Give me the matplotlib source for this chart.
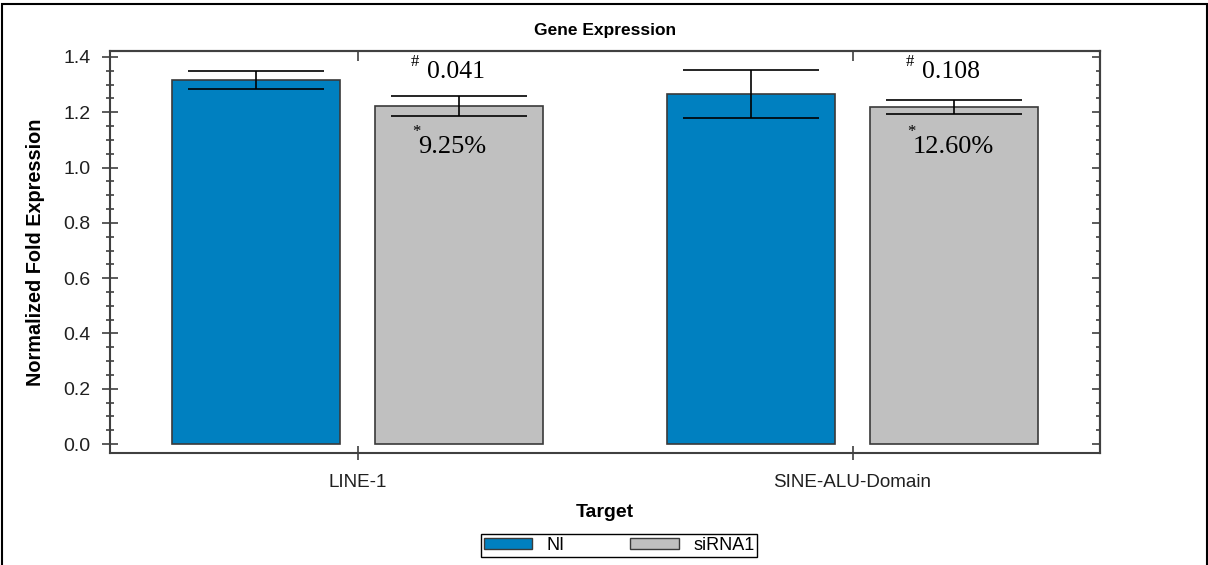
import matplotlib
matplotlib.use("Agg")
import matplotlib.pyplot as plt
import numpy as np
from matplotlib.patches import Patch, Rectangle
from matplotlib.ticker import MultipleLocator

# ---- data -------------------------------------------------------------
targets = ["LINE-1", "SINE-ALU-Domain"]
groups = ["NI", "siRNA1"]
ni_mean = [1.317, 1.266]
ni_err = [0.033, 0.087]
si_mean = [1.222, 1.219]
si_err = [0.037, 0.024]
p_labels = ["0.041", "0.108"]
pct_labels = ["9.25%", "12.60%"]

# ---- style -------------------------------------------------------------
SANS = ["Liberation Sans", "DejaVu Sans"]
SERIF = ["Liberation Serif", "DejaVu Serif"]
plt.rcParams["font.family"] = SANS
NI_COLOR = "#0080C0"
SI_COLOR = "#C0C0C0"
EDGE = "#3a3a3a"
SPINE = "#404040"

fig = plt.figure(figsize=(12.08, 5.65), dpi=100)
ax = fig.add_axes([110 / 1208, 112 / 565, 990 / 1208, 402 / 565])

x = np.arange(len(targets))
width = 0.34
offset = 0.205

ax.bar(x - offset, ni_mean, width, color=NI_COLOR, edgecolor=EDGE, linewidth=1.2, zorder=2)
ax.bar(x + offset, si_mean, width, color=SI_COLOR, edgecolor=EDGE, linewidth=1.2, zorder=2)
ax.errorbar(x - offset, ni_mean, yerr=ni_err, fmt="none", ecolor="black",
            elinewidth=1.2, capsize=49, capthick=1.2, zorder=3)
ax.errorbar(x + offset, si_mean, yerr=si_err, fmt="none", ecolor="black",
            elinewidth=1.2, capsize=49, capthick=1.2, zorder=3)

ax.set_xlim(-0.5, 1.5)
ax.set_ylim(-0.0325, 1.4217)

# significance annotations
for i in range(len(targets)):
    ax.text(i + 0.107, 1.411, "#", family=SERIF, fontsize=12, ha="left", va="top")
    ax.text(i + 0.140, 1.324, p_labels[i], family=SERIF, fontsize=18.5,
            ha="left", va="baseline")
    ax.text(i + 0.110, 1.156, "*", family=SERIF, fontsize=12, ha="left", va="top")
    ax.text(i + 0.122, 1.053, pct_labels[i], family=SERIF, fontsize=19,
            ha="left", va="baseline")

# left / bottom axes
for s in ax.spines.values():
    s.set_color(SPINE)
    s.set_linewidth(1.5)
ax.yaxis.set_minor_locator(MultipleLocator(0.05))
ax.set_yticks(np.arange(0, 1.41, 0.2))
ax.set_yticklabels([f"{v:.1f}" for v in np.arange(0, 1.41, 0.2)])
ax.set_xticks(x)
ax.set_xticklabels(targets)
ax.tick_params(axis="y", which="major", direction="inout", length=11, width=1.2,
               color=SPINE, labelsize=14, labelcolor="#202020", pad=8.5)
ax.tick_params(axis="y", which="minor", direction="inout", length=6, width=1.2,
               color=SPINE)
ax.tick_params(axis="x", which="major", direction="inout", length=10, width=1.2,
               color=SPINE, labelsize=13.6, labelcolor="#202020", pad=10)
ax.tick_params(axis="x", which="minor", bottom=False)

# inward ticks on the top and right edges
top = ax.secondary_xaxis("top")
top.set_xticks(x)
top.tick_params(direction="in", length=7, width=1.2, color=SPINE, labeltop=False)
top.spines["top"].set_color(SPINE)
top.spines["top"].set_linewidth(1.5)
right = ax.secondary_yaxis("right")
right.set_yticks(np.arange(0, 1.41, 0.2))
right.yaxis.set_minor_locator(MultipleLocator(0.05))
right.tick_params(which="major", direction="in", length=6, width=1.2, color=SPINE,
                  labelright=False)
right.tick_params(which="minor", direction="in", length=3, width=1.2, color=SPINE)
right.spines["right"].set_color(SPINE)
right.spines["right"].set_linewidth(1.5)

ax.set_ylabel("Normalized Fold Expression", fontsize=14.3, fontweight="bold")
ax.yaxis.set_label_coords(-0.066, 0.5)
ax.set_xlabel("Target", fontsize=14, fontweight="bold")
ax.xaxis.set_label_coords(0.5, -0.127)

fig.text(605 / 1208, 1 - 30 / 565, "Gene Expression", fontsize=12.5, fontweight="bold",
         ha="center", va="center")

handles = [Patch(facecolor=NI_COLOR, edgecolor=EDGE, linewidth=1.0),
           Patch(facecolor=SI_COLOR, edgecolor=EDGE, linewidth=1.0)]
leg = fig.legend(handles, groups, loc="center", bbox_to_anchor=(619 / 1208, 1 - 545.5 / 565),
                 ncol=2, fontsize=13, frameon=True, fancybox=False, framealpha=1,
                 edgecolor="black", handlelength=2.7, handleheight=0.55,
                 handletextpad=0.8, columnspacing=3.6, borderpad=0.15,
                 borderaxespad=0)
leg.get_frame().set_linewidth(1.0)

# outer frame of the figure
fig.patches.append(Rectangle((2 / 1208, -0.02), 1204.5 / 1208, 1.02 - 4 / 565,
                             transform=fig.transFigure, fill=False,
                             edgecolor="black", linewidth=1.5))

fig.savefig("out.png", dpi=100)
